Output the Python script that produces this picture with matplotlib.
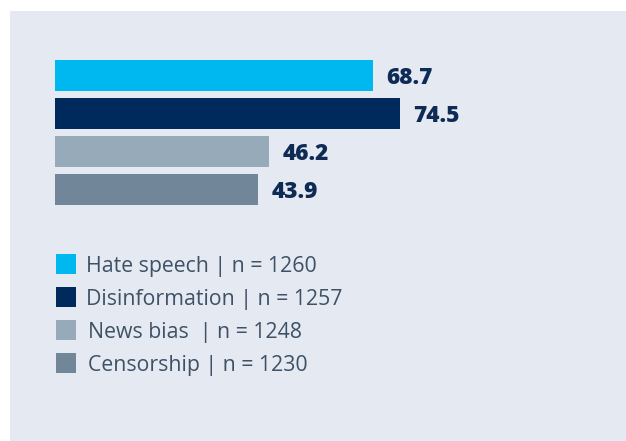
import matplotlib
matplotlib.use("Agg")
import matplotlib.pyplot as plt
from matplotlib.patches import Rectangle

# Data
categories = ["Hate speech", "Disinformation", "News bias ", "Censorship"]
values = [68.7, 74.5, 46.2, 43.9]
sample_sizes = [1260, 1257, 1248, 1230]
colors = ["#00b8f0", "#002a5c", "#97aaba", "#718799"]

W, H = 626, 441
DPI = 100
BG = "#e5e9f1"
VALUE_COLOR = "#0e2b55"
TEXT_COLOR = "#3e5166"
FONT = ["Open Sans", "DejaVu Sans"]

fig = plt.figure(figsize=(W / DPI, H / DPI), dpi=DPI)
fig.patch.set_facecolor("white")


def fx(px):
    return px / W


def fy(py):
    # pixel measured from the top -> figure fraction from the bottom
    return 1 - py / H


# Background panel
fig.patches.append(Rectangle((fx(10), 0), fx(616), fy(11), transform=fig.transFigure,
                             facecolor=BG, edgecolor="none", zorder=-5))

# Bar axes
px_per_unit = 4.625
ax_left, ax_width = 55, 560
ax_top, ax_bottom = 56.5, 208.5
ax = fig.add_axes([fx(ax_left), fy(ax_bottom), fx(ax_width), (ax_bottom - ax_top) / H])
ax.set_zorder(2)
ax.set_facecolor("none")
ax.set_xlim(0, ax_width / px_per_unit)
ax.set_ylim(len(values) - 0.5, -0.5)
ax.axis("off")

ypos = list(range(len(values)))
ax.barh(ypos, values, height=31 / 38, color=colors, edgecolor="none")
for y, v in zip(ypos, values):
    ax.annotate(f"{v}", xy=(v, y), xytext=(10, 0), textcoords="offset points",
                ha="left", va="center_baseline", fontsize=16.3, fontweight=800,
                color=VALUE_COLOR, family=FONT)

# Legend
leg_top = 254
leg_step = 33
for i, (name, n, c) in enumerate(zip(categories, sample_sizes, colors)):
    top = leg_top + i * leg_step
    fig.patches.append(Rectangle((fx(56), fy(top + 19.5)), fx(19.5), 19.5 / H,
                                 transform=fig.transFigure, facecolor=c,
                                 edgecolor="none", zorder=2))
    fig.text(fx(86 if i < 2 else 88), fy(top + 10), f"{name} | n = {n}",
             ha="left", va="center_baseline", fontsize=15.3, color=TEXT_COLOR,
             family=FONT, zorder=3)

fig.savefig("out.png", dpi=DPI, facecolor=fig.get_facecolor())
